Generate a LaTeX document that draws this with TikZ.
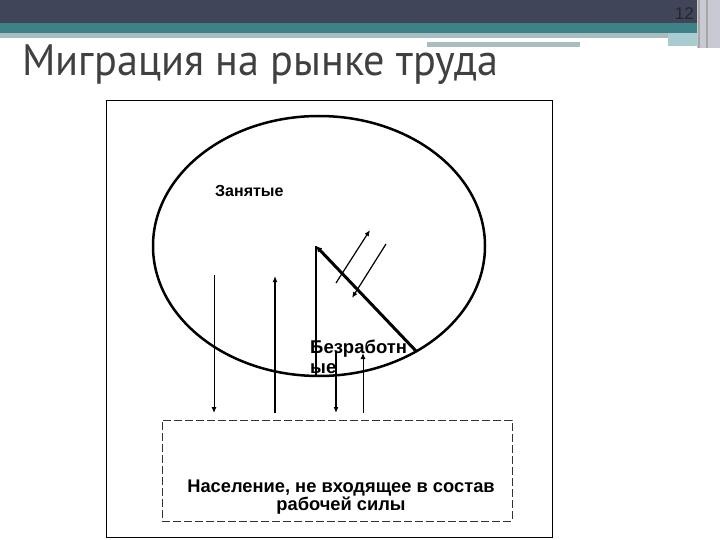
\documentclass[tikz,border=0pt]{standalone}
\usepackage{fontspec}
\setmainfont{Liberation Sans}
\newfontfamily\titlefont{PT Sans}
\usetikzlibrary{arrows.meta,shapes.geometric}
\definecolor{hdark}{HTML}{41455A}
\definecolor{hteal}{HTML}{3E8187}
\definecolor{hlight}{HTML}{A8BDBF}
\definecolor{hlight2}{HTML}{A9CCD1}
\definecolor{hside}{HTML}{C9C9D3}
\definecolor{titlegray}{HTML}{404040}
\tikzset{
  tip/.style={-{Latex[length=6pt,width=5pt]}},
  thinarr/.style={tip, line width=1pt},
  medarr/.style={tip, line width=1.8pt},
  lbl/.style={inner sep=0pt, font=\fontsize{16}{19}\selectfont\bfseries},
  boxtext/.style={inner sep=0pt, align=center, font=\fontsize{18.3}{18}\selectfont\bfseries},
}
\begin{document}
\begin{tikzpicture}[x=1pt,y=-1pt]
\useasboundingbox (0,0) rectangle (720,540);
% header
\fill[hside] (697,0) rectangle (720,48);
\fill[hdark] (0,0) rectangle (697,23);
\fill[hteal] (0,23) rectangle (697,33);
\fill[hlight] (0,33) rectangle (668,38);
\fill[hlight] (427,38) rectangle (580,47);
\fill[white] (427,38.5) rectangle (668,42);
\fill[hlight2] (668,33) rectangle (697,46);
\draw[gray!70, line width=1.2pt] (699,0) -- (699,48) (707,0) -- (707,48);
\node[anchor=base east, inner sep=0pt, font=\fontsize{17}{17}\selectfont, text=black!85] (pg) at (694,20) {12};
\node[anchor=base west, inner sep=0pt, text=titlegray] (title) at (22,76)
  {\scalebox{0.96}[1]{\titlefont\fontsize{44}{44}\selectfont Миграция на рынке труда}};
% frame
\draw[line width=1pt] (106.5,101) rectangle (552,537);
% ellipse
\node[draw, line width=2.5pt, ellipse, minimum width=332pt, minimum height=260pt, inner sep=0pt] (emp) at (319,246) {};
% dashed box
\node[draw, black!80, dash pattern=on 8pt off 3pt, line width=1pt, minimum width=350pt, minimum height=101pt, inner sep=0pt] (pop) at (337,470.5) {};
\node[boxtext] (poptext) at (341,497) {Население, не входящее в состав\\рабочей силы};
% labels
\node[lbl, anchor=west] (zan) at (215,191) {Занятые};
\node[lbl, anchor=base west, align=left, font=\fontsize{18.5}{19.5}\selectfont\bfseries] (bez) at (310,373) {Безработн\\ые};
% coordinates
\coordinate (a1t) at (214,275);
\coordinate (a1b) at (214,413);
\coordinate (a2t) at (275,276);
\coordinate (a2b) at (275,413);
\coordinate (a3t) at (336,352);
\coordinate (a3b) at (336,413);
\coordinate (a4t) at (363,353);
\coordinate (a4b) at (363,413);
\coordinate (vtop) at (316,246);
\coordinate (vbot) at (316,376);
\coordinate (dbot) at (416,351);
\coordinate (u1) at (336,283);
\coordinate (u2) at (370,230);
\coordinate (w1) at (386,244);
\coordinate (w2) at (352,298);
% connectors
\draw[thinarr] (a1t) -- (a1b);
\draw[medarr] (a2b) -- (a2t);
\draw[medarr] (a3t) -- (a3b);
\draw[thinarr] (a4b) -- (a4t);
\draw[line width=2pt] (vbot) -- (vtop);
\draw[line width=3pt, -{Latex[length=6pt,width=6pt]}] (dbot) -- (vtop);
\draw[thinarr, line width=1.2pt] (u1) -- (u2);
\draw[thinarr, line width=1.2pt] (w1) -- (w2);
\end{tikzpicture}
\end{document}
